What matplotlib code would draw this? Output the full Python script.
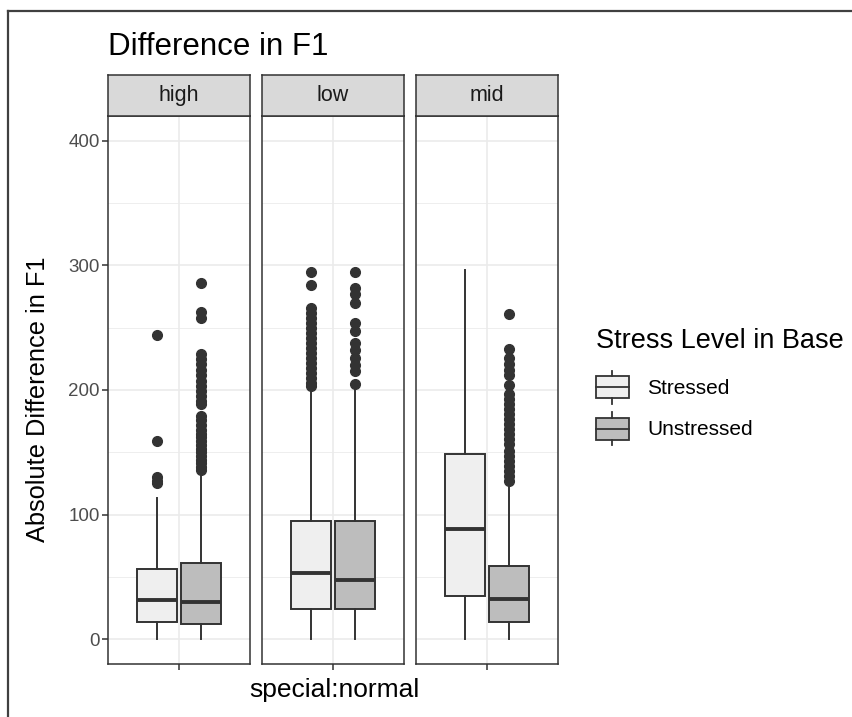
import numpy as np
import matplotlib
matplotlib.use('Agg')
import matplotlib.pyplot as plt
from matplotlib.legend_handler import HandlerBase
from matplotlib.patches import Rectangle, Patch
from matplotlib.lines import Line2D

plt.rcParams['font.family'] = ['Liberation Sans', 'DejaVu Sans']

# Facets and groups
facets = ['high', 'low', 'mid']
stress_levels = ['Stressed', 'Unstressed']
x_category = 'special:normal'

# Box summary values, rows = facets, columns = [Stressed, Unstressed]
medians = np.array([[31.5, 29.5], [53, 47.5], [88, 32]])
q1 = np.array([[14, 12.5], [24.5, 24], [34.5, 14]])
q3 = np.array([[56.5, 61], [95, 95], [149, 58.5]])
whisker_low = np.array([[0, 0], [0, 0], [0, 0]])
whisker_high = np.array([[113, 133], [199, 200], [296, 123]])

# Outliers per facet: [Stressed, Unstressed]
outliers = {
    'high': [
        [244, 159, 130, 127, 125],
        [286, 263, 258, 229, 225, 221, 216, 212, 207, 203, 199, 195, 191,
         189, 179, 176, 172, 168, 165, 162, 159, 156, 153, 150, 147, 144,
         141, 138, 136],
    ],
    'low': [
        [295, 284, 266, 262, 258, 254, 250, 246, 242, 238, 234, 230, 226,
         222, 218, 214, 210, 206, 203],
        [295, 282, 277, 270, 254, 247, 238, 232, 226, 220, 215, 205],
    ],
    'mid': [
        [],
        [261, 233, 226, 221, 216, 212, 204, 197, 193, 189, 185, 181, 177,
         173, 169, 165, 161, 157, 151, 147, 143, 139, 135, 131, 127],
    ],
}

fill_colors = ['#EFEFEF', '#BDBDBD']
line_color = '#333333'
grid_color = '#EBEBEB'

W, H = 853, 717


def fx(px):
    return px / W


def fy(py):
    return 1 - py / H


fig = plt.figure(figsize=(W / 100, H / 100), dpi=100)

panel_left = [108, 262, 416]
panel_w = 142
panel_top, panel_bottom = 116, 664
strip_top = 75

for i, facet in enumerate(facets):
    ax = fig.add_axes([fx(panel_left[i]), fy(panel_bottom),
                       panel_w / W, (panel_bottom - panel_top) / H])
    stats = []
    for j in range(len(stress_levels)):
        stats.append(dict(med=medians[i, j], q1=q1[i, j], q3=q3[i, j],
                          whislo=whisker_low[i, j], whishi=whisker_high[i, j],
                          fliers=outliers[facet][j]))
    bp = ax.bxp(stats, positions=[1 - 0.1875, 1 + 0.1875], widths=0.34,
                patch_artist=True, showcaps=False,
                boxprops=dict(edgecolor=line_color, linewidth=1.4),
                medianprops=dict(color=line_color, linewidth=2.8,
                                 solid_capstyle='butt'),
                whiskerprops=dict(color=line_color, linewidth=1.4),
                flierprops=dict(marker='o', markerfacecolor=line_color,
                                markeredgecolor=line_color, markersize=7))
    for patch, c in zip(bp['boxes'], fill_colors):
        patch.set_facecolor(c)

    ax.set_xlim(0.4, 1.6)
    ax.set_ylim(-20, 420)
    ax.set_xticks([1])
    ax.set_xticklabels([''])
    ax.set_yticks([0, 100, 200, 300, 400])
    ax.set_yticks([50, 150, 250, 350], minor=True)
    ax.grid(which='major', color=grid_color, linewidth=1.2)
    ax.grid(which='minor', axis='y', color=grid_color, linewidth=0.6)
    ax.set_axisbelow(True)
    ax.tick_params(which='minor', length=0)
    ax.tick_params(which='major', length=4, width=1.1, color=line_color,
                   labelsize=13.5, labelcolor='#4D4D4D', pad=2)
    if i > 0:
        ax.tick_params(axis='y', left=False, labelleft=False)
    for s in ax.spines.values():
        s.set_color(line_color)
        s.set_linewidth(1.1)

    # facet strip
    sax = fig.add_axes([fx(panel_left[i]), fy(panel_top),
                        panel_w / W, (panel_top - strip_top) / H])
    sax.set_facecolor('#D9D9D9')
    sax.set_xticks([])
    sax.set_yticks([])
    for s in sax.spines.values():
        s.set_color(line_color)
        s.set_linewidth(1.1)
    sax.text(0.5, 0.5, facet, ha='center', va='center', fontsize=15.5,
             color='#1A1A1A', transform=sax.transAxes)

# titles
fig.text(fx(108), fy(55), 'Difference in F1', fontsize=22.5, ha='left',
         va='baseline')
fig.text(fx(38), fy(399), 'Absolute Difference in F1', fontsize=18.3,
         rotation=90, ha='center', va='center')
fig.text(fx(334), fy(690), x_category, fontsize=19, ha='center',
         va='center')


class BoxKeyHandler(HandlerBase):
    def create_artists(self, legend, orig_handle, xdescent, ydescent,
                       width, height, fontsize, trans):
        x0, y0 = -xdescent, -ydescent
        lo, hi = y0 + 0.17 * height, y0 + 0.83 * height
        xm = x0 + width / 2
        box = Rectangle((x0, lo), width, hi - lo,
                        facecolor=orig_handle.get_facecolor(),
                        edgecolor=line_color, linewidth=1.3, transform=trans)
        med = Line2D([x0, x0 + width], [(lo + hi) / 2] * 2, color=line_color,
                     linewidth=1.3, transform=trans)
        w1 = Line2D([xm, xm], [y0, lo], color=line_color, linewidth=1.3,
                    transform=trans)
        w2 = Line2D([xm, xm], [hi, y0 + height], color=line_color,
                    linewidth=1.3, transform=trans)
        return [box, med, w1, w2]


handles = [Patch(facecolor=c, label=l) for c, l in zip(fill_colors, stress_levels)]
leg = fig.legend(handles=handles, handler_map={Patch: BoxKeyHandler()},
                 title='Stress Level in Base', loc='upper left',
                 bbox_to_anchor=(fx(596), fy(328)), frameon=False, fontsize=15,
                 title_fontsize=19.5, handlelength=1.58, handleheight=2.06,
                 labelspacing=0.41, handletextpad=0.87, borderpad=0,
                 borderaxespad=0, alignment='left')
leg._legend_box.sep = 12

# frame around the picture (top and left edges)
fig.add_artist(Line2D([fx(8), 1], [fy(10.5), fy(10.5)], color='#404040',
                      linewidth=1.6, transform=fig.transFigure))
fig.add_artist(Line2D([fx(8), fx(8)], [fy(10.5), 0], color='#404040',
                      linewidth=1.6, transform=fig.transFigure))

fig.savefig('out.png', dpi=100)
